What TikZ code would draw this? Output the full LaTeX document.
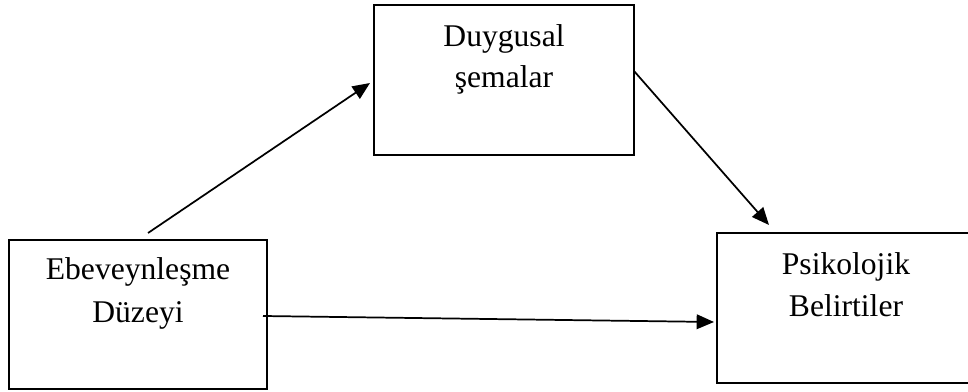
\documentclass[tikz,border=0pt]{standalone}
\usepackage{fontspec}
\setmainfont{Liberation Serif}
\usetikzlibrary{arrows.meta}
\tikzset{
  box/.style={draw=black, line width=1.4pt, inner sep=0pt, fill=none},
  lbl/.style={font=\fontsize{23.7}{31.5}\selectfont, inner sep=0pt, anchor=base},
  arr/.style={line width=1.3pt, -{Triangle[length=13pt,width=11pt]}}
}
\begin{document}
\begin{tikzpicture}[x=0.75pt, y=-0.75pt]
  \useasboundingbox (0,0) rectangle (968,392);
  \clip (0,0) rectangle (968,392);
  \fill[white] (0,0) rectangle (968,392);

  % the three variable boxes
  \node[box, minimum width=195pt, minimum height=112.5pt] (ds) at (504,80) {};
  \node[box, minimum width=193.5pt, minimum height=111.75pt] (eb) at (138,314.5) {};
  \node[box, minimum width=193.5pt, minimum height=112.5pt] (pb) at (846,308) {};

  % box labels, one node per line
  \node[lbl] (ds1) at (504,47) {Duygusal};
  \node[lbl] (ds2) at (504,88) {şemalar};
  \node[lbl] (eb1) at (138,280) {Ebeveynleşme};
  \node[lbl] (eb2) at (138,322) {Düzeyi};
  \node[lbl] (pb1) at (846,274) {Psikolojik};
  \node[lbl] (pb2) at (846,316) {Belirtiler};

  % arrow end points
  \coordinate (a1s) at (148,233);
  \coordinate (a1e) at (370,83);
  \coordinate (a2s) at (634,71);
  \coordinate (a2e) at (769,225);
  \coordinate (a3s) at (263,316);
  \coordinate (a3e) at (714,322);

  \draw[arr] (a1s) -- (a1e);
  \draw[arr] (a2s) -- (a2e);
  \draw[arr] (a3s) -- (a3e);
\end{tikzpicture}
\end{document}
